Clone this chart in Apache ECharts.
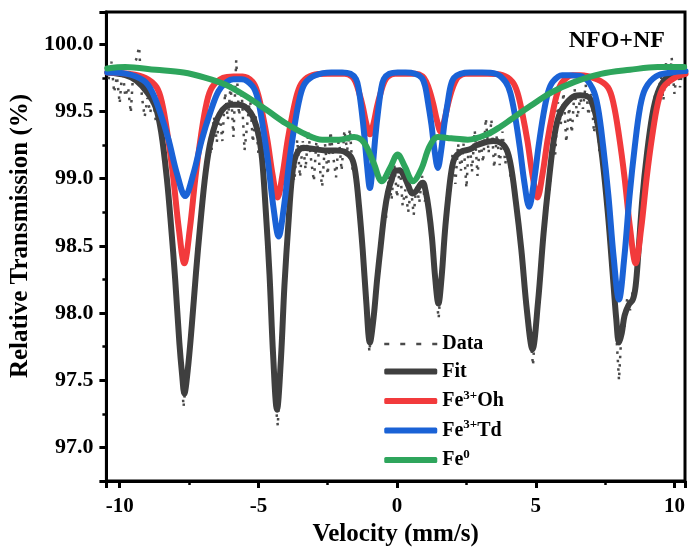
<!DOCTYPE html>
<html>
<head>
<meta charset="utf-8">
<script src="https://cdn.jsdelivr.net/npm/echarts@6/dist/echarts.min.js"></script>
<style>
  html, body { margin: 0; padding: 0; background: #fff; }
  #chart { width: 689px; height: 555px; }
</style>
</head>
<body>
<div id="chart"></div>
<script>
// measured transmission, one channel every 0.1 mm/s starting at -10.4
const dataStart = -10.4, dataStep = 0.1;
const transmission = [
  99.74, 99.87, 99.64, 99.76, 99.56,
  99.83, 99.61, 99.68, 99.49, 99.84, 99.89, 99.98, 99.61, 99.46, 99.60,
  99.49, 99.60, 99.43, 99.48, 99.28, 99.22, 98.94, 98.81, 98.47, 98.28,
  97.90, 97.68, 97.30, 97.52, 97.63, 97.97, 98.13, 98.47, 98.58, 98.93,
  98.96, 99.23, 99.18, 99.46, 99.27, 99.50, 99.28, 99.64, 99.44, 99.70,
  99.31, 99.88, 99.47, 99.63, 99.21, 99.41, 99.61, 99.27, 99.47, 99.19,
  99.28, 98.92, 98.72, 98.23, 97.88, 97.37, 97.16, 97.68, 97.98, 98.49,
  98.63, 99.05, 98.98, 99.29, 99.01, 99.28, 99.07, 99.35, 99.14, 98.98,
  99.31, 99.10, 98.94, 99.26, 99.03, 99.35, 99.16, 99.01, 99.31, 99.06,
  99.36, 99.21, 99.37, 99.05, 99.10, 98.78, 98.67, 98.30, 98.11, 97.71,
  97.92, 98.02, 98.35, 98.41, 98.75, 98.70, 99.02, 98.84, 99.10, 98.86,
  99.10, 98.80, 98.92, 98.75, 98.93, 98.73, 98.96, 98.82, 99.02, 98.83,
  98.89, 98.59, 98.51, 98.14, 97.96, 98.30, 98.47, 98.86, 98.88, 99.19,
  98.96, 99.26, 99.06, 99.26, 98.93, 99.32, 99.05, 99.36, 99.02, 99.30,
  99.12, 99.45, 99.19, 99.44, 99.08, 99.33, 99.10, 99.35, 99.11, 99.23,
  98.99, 99.02, 98.71, 98.66, 98.35, 98.26, 97.91, 97.85, 97.61, 97.96,
  98.07, 98.44, 98.55, 98.92, 98.91, 99.30, 99.18, 99.57, 99.40, 99.64,
  99.27, 99.53, 99.34, 99.67, 99.45, 99.60, 99.52, 99.70, 99.47, 99.63,
  99.34, 99.54, 99.18, 99.21, 98.87, 98.81, 98.41, 98.28, 97.86, 97.50,
  97.90, 97.90, 98.12, 98.02, 98.17, 98.14, 98.53, 98.66, 99.05, 99.07,
  99.41, 99.33, 99.63, 99.52, 99.79, 99.58, 99.87, 99.68, 99.90, 99.63,
  99.84, 99.68, 99.84
];

// [velocity, transmission] pairs
const fitCurve = [
  [-10.4,99.79],[-9.8,99.77],[-9.4,99.73],[-9.0,99.64],[-8.7,99.53],[-8.5,99.34],[-8.3,99.0],
  [-8.15,98.65],[-8.0,98.25],[-7.85,97.78],[-7.75,97.54],[-7.67,97.40],[-7.55,97.57],[-7.4,97.91],
  [-7.25,98.30],[-7.1,98.65],[-6.9,99.05],[-6.7,99.30],[-6.4,99.48],[-6.0,99.55],[-5.7,99.55],
  [-5.28,99.49],[-5.01,99.34],[-4.87,99.15],[-4.74,98.78],[-4.60,98.29],[-4.47,97.69],[-4.33,97.28],
  [-4.19,97.65],[-4.06,98.21],[-3.92,98.66],[-3.79,99.01],[-3.65,99.17],[-3.38,99.23],[-3.0,99.22],
  [-2.6,99.21],[-2.2,99.21],[-1.89,99.20],[-1.63,99.15],[-1.50,99.04],[-1.37,98.79],[-1.24,98.47],
  [-1.11,98.08],[-0.98,97.78],[-0.85,97.96],[-0.72,98.25],[-0.59,98.50],[-0.46,98.74],[-0.33,98.90],
  [-0.2,98.99],[-0.05,99.06],[0.1,99.06],[0.25,99.02],[0.4,98.95],[0.55,98.89],[0.7,98.91],
  [0.85,98.96],[0.93,98.97],[1.026,98.91],[1.142,98.77],[1.258,98.56],[1.374,98.26],[1.49,98.07],
  [1.606,98.27],[1.722,98.60],[1.838,98.85],[1.954,99.05],[2.07,99.15],[2.3,99.20],[2.65,99.22],
  [2.88,99.25],[3.48,99.28],[3.88,99.24],[4.08,99.12],[4.28,98.83],[4.48,98.47],[4.68,98.02],
  [4.88,97.73],[5.08,98.08],[5.28,98.59],[5.48,99.00],[5.68,99.33],[5.88,99.49],[6.28,99.60],
  [6.6,99.62],[6.88,99.61],[7.0,99.58],[7.2,99.44],[7.4,99.15],[7.6,98.74],[7.8,98.22],[7.9,97.96],
  [8.0,97.78],[8.1,97.85],[8.2,97.98],[8.35,98.06],[8.5,98.10],[8.6,98.20],[8.7,98.45],[8.85,98.87],
  [9.0,99.17],[9.2,99.47],[9.4,99.64],[9.7,99.75],[10.0,99.77],[10.35,99.79]
];

const ohCurve = [
  [-10.45,99.79],[-9.67,99.78],[-9.07,99.75],[-8.67,99.68],[-8.47,99.56],[-8.27,99.32],[-8.07,99.01],
  [-7.87,98.63],[-7.67,98.37],[-7.47,98.63],[-7.27,99.01],[-7.07,99.32],[-6.87,99.56],[-6.67,99.68],
  [-6.27,99.75],[-5.9,99.76],[-5.57,99.76],[-5.21,99.72],[-5.03,99.64],[-4.85,99.48],[-4.67,99.28],
  [-4.49,99.03],[-4.31,98.86],[-4.13,99.03],[-3.95,99.28],[-3.77,99.48],[-3.59,99.64],[-3.41,99.72],
  [-3.05,99.77],[-2.51,99.78],[-1.89,99.78],[-1.63,99.76],[-1.50,99.72],[-1.37,99.64],[-1.24,99.54],
  [-1.11,99.41],[-0.98,99.33],[-0.85,99.41],[-0.72,99.54],[-0.59,99.64],[-0.46,99.72],[-0.33,99.76],
  [-0.07,99.78],[0.3,99.78],[0.66,99.78],[0.92,99.76],[1.05,99.72],[1.18,99.65],[1.31,99.55],
  [1.44,99.43],[1.57,99.35],[1.70,99.43],[1.83,99.55],[1.96,99.65],[2.09,99.72],[2.22,99.76],
  [2.48,99.78],[3.26,99.78],[3.80,99.77],[4.16,99.72],[4.34,99.64],[4.52,99.48],[4.70,99.28],
  [4.88,99.03],[5.06,98.86],[5.24,99.03],[5.42,99.28],[5.60,99.48],[5.78,99.64],[5.96,99.72],
  [6.32,99.77],[6.6,99.77],[7.20,99.74],[7.60,99.68],[7.80,99.56],[8.00,99.32],[8.20,99.01],
  [8.40,98.63],[8.60,98.37],[8.80,98.63],[9.00,99.01],[9.20,99.32],[9.40,99.56],[9.60,99.68],
  [10.0,99.75],[10.4,99.78]
];

const tdCurve = [
  [-10.45,99.79],[-9.74,99.78],[-9.14,99.73],[-8.84,99.65],[-8.54,99.49],[-8.24,99.29],[-7.94,99.04],
  [-7.64,98.87],[-7.34,99.04],[-7.04,99.29],[-6.74,99.49],[-6.44,99.65],[-6.14,99.72],[-5.9,99.74],
  [-5.60,99.74],[-5.22,99.69],[-5.03,99.60],[-4.84,99.39],[-4.65,99.12],[-4.46,98.79],[-4.27,98.57],
  [-4.08,98.79],[-3.89,99.12],[-3.70,99.39],[-3.51,99.60],[-3.32,99.71],[-2.94,99.77],[-2.37,99.79],
  [-1.98,99.79],[-1.68,99.78],[-1.48,99.74],[-1.38,99.66],[-1.28,99.51],[-1.18,99.32],[-1.08,99.09],
  [-0.98,98.93],[-0.88,99.09],[-0.78,99.32],[-0.68,99.51],[-0.58,99.66],[-0.48,99.74],[-0.28,99.78],
  [0.02,99.79],[0.31,99.79],[0.66,99.78],[0.89,99.75],[1.01,99.69],[1.12,99.56],[1.24,99.40],
  [1.35,99.21],[1.47,99.08],[1.59,99.21],[1.70,99.40],[1.82,99.56],[1.93,99.69],[2.05,99.75],
  [2.28,99.78],[2.63,99.79],[3.06,99.79],[3.57,99.78],[3.91,99.72],[4.08,99.64],[4.25,99.47],
  [4.42,99.24],[4.59,98.97],[4.76,98.79],[4.93,98.97],[5.10,99.24],[5.27,99.47],[5.44,99.64],
  [5.61,99.72],[5.95,99.77],[6.2,99.77],[6.67,99.76],[7.05,99.67],[7.24,99.53],[7.43,99.24],
  [7.62,98.87],[7.81,98.41],[8.0,98.10],[8.19,98.41],[8.38,98.87],[8.57,99.24],[8.76,99.53],
  [8.95,99.67],[9.33,99.76],[9.9,99.79],[10.4,99.80]
];

const fe0Curve = [
  [-10.45,99.82],[-9.8,99.83],[-8.7,99.81],[-7.7,99.79],[-6.9,99.75],[-6.2,99.70],[-5.5,99.62],
  [-4.7,99.51],[-4.0,99.41],[-3.3,99.33],[-2.7,99.29],[-2.1,99.29],[-1.55,99.31],[-1.2,99.27],
  [-0.85,99.12],[-0.55,98.98],[-0.25,99.08],[0.02,99.18],[0.28,99.09],[0.57,98.98],[0.87,99.07],
  [1.17,99.24],[1.47,99.31],[1.95,99.30],[2.55,99.29],[3.25,99.33],[3.75,99.39],[4.1,99.44],
  [4.8,99.54],[5.55,99.64],[6.4,99.72],[7.35,99.78],[8.4,99.81],[9.4,99.83],[10.35,99.83]
];

const legendLabels = {
  'Data': '{n|Data}',
  'Fit': '{n|Fit}',
  'Fe3+Oh': '{n|Fe}{s|3+}{n|Oh}',
  'Fe3+Td': '{n|Fe}{s|3+}{n|Td}',
  'Fe0': '{n|Fe}{s|0}'
};
const colors = ['#4a4a4a', '#3f3f3f', '#f23a3c', '#1a62d6', '#2ea55c'];

const dataPoints = transmission.map((v, i) => [+(dataStart + i * dataStep).toFixed(2), v]);

const font = 'Liberation Serif';

function curve(name, pts, color, z) {
  return {
    name: name,
    type: 'line',
    data: pts,
    smooth: 0.35,
    symbol: 'none',
    z: z,
    lineStyle: { color: color, width: 6, cap: 'round', join: 'round' },
    itemStyle: { color: color }
  };
}

const chart = echarts.init(document.getElementById('chart'));
chart.setOption({
  animation: false,
  backgroundColor: '#fff',
  grid: {
    left: 104, right: 4, top: 12, bottom: 74,
    show: true, borderColor: '#000', borderWidth: 3
  },
  title: {
    text: 'NFO+NF',
    right: 24, top: 29, padding: 0,
    textStyle: { fontFamily: font, fontWeight: 'bold', fontSize: 24, color: '#000' }
  },
  legend: {
    data: [
      { name: 'Data', itemStyle: { opacity: 0 }, lineStyle: { width: 2.5, type: [5, 11] } },
      { name: 'Fit', icon: 'roundRect' },
      { name: 'Fe3+Oh', icon: 'roundRect' },
      { name: 'Fe3+Td', icon: 'roundRect' },
      { name: 'Fe0', icon: 'roundRect' }
    ],
    orient: 'vertical',
    left: 383, top: 334, padding: 0,
    itemWidth: 53, itemHeight: 6, itemGap: 7.5,
    formatter: function (name) { return legendLabels[name]; },
    textStyle: {
      color: '#000',
      rich: {
        n: { fontFamily: font, fontWeight: 'bold', fontSize: 20, lineHeight: 24, color: '#000' },
        s: { fontFamily: font, fontWeight: 'bold', fontSize: 13, lineHeight: 13, verticalAlign: 'top', color: '#000' }
      }
    }
  },
  xAxis: {
    type: 'value',
    min: -10.48, max: 10.38,
    splitNumber: 4,
    name: 'Velocity (mm/s)',
    nameLocation: 'middle',
    nameGap: 41,
    nameTextStyle: { fontFamily: font, fontWeight: 'bold', fontSize: 25, color: '#000' },
    axisLine: { show: true, onZero: false, lineStyle: { color: '#000', width: 3 } },
    axisTick: { show: true, inside: false, length: 7, lineStyle: { width: 3, color: '#000' } },
    minorTick: { show: true, splitNumber: 2, length: 4, lineStyle: { width: 2.5, color: '#000' } },
    splitLine: { show: false },
    axisLabel: {
      margin: 15, showMinLabel: false, showMaxLabel: false,
      fontFamily: font, fontWeight: 'bold', fontSize: 21, color: '#000'
    }
  },
  yAxis: {
    type: 'value',
    min: 96.75, max: 100.24,
    splitNumber: 7,
    name: 'Relative Transmission (%)',
    nameLocation: 'middle',
    nameGap: 58,
    nameTextStyle: { fontFamily: font, fontWeight: 'bold', fontSize: 25, color: '#000', padding: [0, 0, 0, 21] },
    axisLine: { show: true, onZero: false, lineStyle: { color: '#000', width: 3 } },
    axisTick: { show: true, inside: false, length: 7, lineStyle: { width: 3, color: '#000' } },
    minorTick: { show: true, splitNumber: 2, length: 4, lineStyle: { width: 2.5, color: '#000' } },
    splitLine: { show: false },
    axisLabel: {
      margin: 13, showMinLabel: false, showMaxLabel: false,
      fontFamily: font, fontWeight: 'bold', fontSize: 22, color: '#000',
      formatter: function (v) { return v.toFixed(1); }
    }
  },
  series: [
    {
      name: 'Data',
      type: 'line',
      data: dataPoints,
      symbol: 'none',
      z: 1,
      lineStyle: { color: colors[0], width: 2.5, type: [2.5, 6] },
      itemStyle: { color: colors[0] }
    },
    curve('Fit', fitCurve, colors[1], 2),
    curve('Fe3+Oh', ohCurve, colors[2], 3),
    curve('Fe3+Td', tdCurve, colors[3], 4),
    curve('Fe0', fe0Curve, colors[4], 5)
  ]
});
</script>
</body>
</html>
